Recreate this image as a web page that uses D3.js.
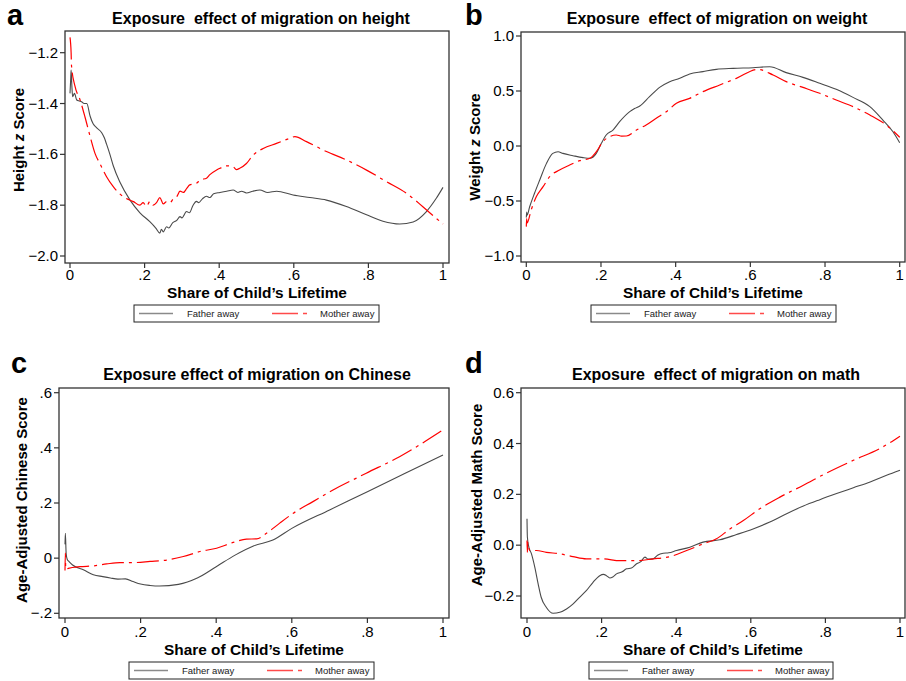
<!DOCTYPE html>
<html>
<head>
<meta charset="utf-8">
<script src="https://cdn.jsdelivr.net/npm/d3@7"></script>
<style>
  html, body { margin: 0; padding: 0; background: #fff; }
  svg { display: block; font-family: "Liberation Sans", Arial, sans-serif; }
</style>
</head>
<body>
<div id="chart"></div>
<script>
// Exposure effect curves: [share of lifetime, score]
const heightFather = [[0,-1.36],[0.002,-1.30],[0.003,-1.268],[0.005,-1.33],[0.007,-1.373],[0.012,-1.36],[0.018,-1.386],[0.025,-1.39],[0.031,-1.393],[0.038,-1.40],[0.045,-1.40],[0.054,-1.45],[0.062,-1.48],[0.071,-1.495],[0.085,-1.515],[0.092,-1.535],[0.098,-1.56],[0.107,-1.60],[0.116,-1.645],[0.134,-1.71],[0.161,-1.78],[0.1875,-1.83],[0.214,-1.865],[0.23,-1.89],[0.241,-1.91],[0.245,-1.895],[0.25,-1.905],[0.259,-1.885],[0.265,-1.89],[0.275,-1.87],[0.286,-1.86],[0.295,-1.845],[0.30,-1.85],[0.3125,-1.825],[0.32,-1.83],[0.33,-1.80],[0.339,-1.785],[0.345,-1.79],[0.355,-1.775],[0.366,-1.765],[0.375,-1.77],[0.385,-1.755],[0.402,-1.75],[0.42,-1.745],[0.4375,-1.74],[0.45,-1.75],[0.46,-1.745],[0.473,-1.752],[0.49,-1.745],[0.509,-1.74],[0.53,-1.75],[0.554,-1.745],[0.598,-1.76],[0.643,-1.77],[0.6875,-1.78],[0.741,-1.805],[0.795,-1.838],[0.839,-1.863],[0.884,-1.874],[0.92,-1.866],[0.955,-1.826],[0.982,-1.773],[1.0,-1.73]];
const heightMother = [[0,-1.14],[0.003,-1.20],[0.004,-1.25],[0.013,-1.33],[0.027,-1.386],[0.04,-1.452],[0.054,-1.53],[0.067,-1.596],[0.08,-1.636],[0.098,-1.688],[0.116,-1.727],[0.143,-1.767],[0.17,-1.786],[0.1875,-1.80],[0.196,-1.79],[0.205,-1.805],[0.214,-1.786],[0.223,-1.80],[0.232,-1.79],[0.241,-1.77],[0.25,-1.795],[0.259,-1.786],[0.268,-1.79],[0.277,-1.775],[0.286,-1.767],[0.295,-1.745],[0.304,-1.75],[0.313,-1.734],[0.321,-1.72],[0.339,-1.714],[0.35,-1.70],[0.366,-1.694],[0.375,-1.68],[0.393,-1.662],[0.402,-1.655],[0.42,-1.645],[0.4375,-1.649],[0.446,-1.66],[0.455,-1.655],[0.473,-1.636],[0.491,-1.603],[0.518,-1.577],[0.5536,-1.557],[0.589,-1.537],[0.603,-1.53],[0.634,-1.55],[0.6875,-1.589],[0.741,-1.622],[0.795,-1.662],[0.848,-1.707],[0.902,-1.753],[0.946,-1.806],[0.982,-1.852],[1.0,-1.874]];

const weightFather = [[0,-0.65],[0.001,-0.60],[0.002,-0.63],[0.009,-0.552],[0.022,-0.43],[0.036,-0.309],[0.054,-0.158],[0.071,-0.067],[0.085,-0.052],[0.098,-0.067],[0.125,-0.088],[0.152,-0.106],[0.17,-0.112],[0.1875,-0.067],[0.201,0.024],[0.214,0.10],[0.232,0.145],[0.25,0.221],[0.277,0.312],[0.29,0.34],[0.304,0.364],[0.33,0.448],[0.357,0.533],[0.384,0.585],[0.411,0.615],[0.4375,0.655],[0.473,0.676],[0.509,0.697],[0.554,0.706],[0.607,0.712],[0.652,0.721],[0.696,0.667],[0.741,0.624],[0.786,0.57],[0.83,0.515],[0.875,0.442],[0.92,0.358],[0.955,0.236],[0.982,0.13],[1.0,0.03]];
const weightMother = [[0,-0.733],[0.001,-0.66],[0.002,-0.70],[0.013,-0.582],[0.027,-0.46],[0.045,-0.37],[0.0625,-0.279],[0.089,-0.218],[0.116,-0.173],[0.143,-0.133],[0.17,-0.112],[0.1875,-0.052],[0.205,0.039],[0.223,0.085],[0.241,0.10],[0.255,0.09],[0.268,0.091],[0.295,0.145],[0.321,0.191],[0.348,0.252],[0.375,0.312],[0.402,0.388],[0.4375,0.433],[0.473,0.494],[0.518,0.555],[0.5625,0.615],[0.62,0.697],[0.661,0.645],[0.696,0.585],[0.741,0.533],[0.786,0.479],[0.83,0.418],[0.875,0.358],[0.92,0.282],[0.964,0.191],[1.0,0.079]];

const chineseFather = [[0,0.05],[0.001,0.09],[0.003,0.018],[0.006,-0.005],[0.009,-0.01],[0.02,-0.025],[0.05,-0.043],[0.075,-0.06],[0.1,-0.067],[0.12,-0.072],[0.14,-0.076],[0.16,-0.075],[0.18,-0.085],[0.2,-0.094],[0.225,-0.099],[0.25,-0.101],[0.3,-0.095],[0.35,-0.072],[0.4,-0.031],[0.45,0.011],[0.5,0.045],[0.55,0.066],[0.6,0.108],[0.7,0.175],[0.8,0.241],[0.9,0.308],[1.0,0.374]];
const chineseMother = [[0,-0.045],[0.001,0.018],[0.002,-0.04],[0.009,-0.037],[0.04,-0.031],[0.075,-0.028],[0.11,-0.021],[0.145,-0.016],[0.181,-0.016],[0.225,-0.012],[0.269,-0.007],[0.313,0.006],[0.357,0.024],[0.401,0.036],[0.445,0.057],[0.48,0.069],[0.507,0.07],[0.533,0.09],[0.568,0.127],[0.604,0.163],[0.656,0.205],[0.709,0.247],[0.797,0.308],[0.885,0.368],[1.0,0.465]];

const mathFather = [[0,0.104],[0.001,0.032],[0.005,-0.008],[0.012,-0.034],[0.021,-0.087],[0.03,-0.153],[0.038,-0.205],[0.052,-0.245],[0.07,-0.268],[0.088,-0.264],[0.106,-0.251],[0.123,-0.232],[0.141,-0.205],[0.159,-0.179],[0.177,-0.146],[0.195,-0.12],[0.205,-0.115],[0.213,-0.12],[0.222,-0.129],[0.23,-0.125],[0.24,-0.113],[0.255,-0.105],[0.267,-0.093],[0.28,-0.09],[0.293,-0.074],[0.305,-0.065],[0.316,-0.047],[0.325,-0.055],[0.338,-0.054],[0.35,-0.04],[0.365,-0.032],[0.38,-0.03],[0.401,-0.021],[0.4365,-0.008],[0.472,0.012],[0.517,0.021],[0.562,0.042],[0.606,0.064],[0.651,0.091],[0.696,0.124],[0.741,0.154],[0.785,0.179],[0.83,0.203],[0.875,0.226],[0.92,0.249],[0.964,0.275],[1.0,0.295]];
const mathMother = [[0,0.018],[0.001,-0.028],[0.002,0.01],[0.007,-0.021],[0.025,-0.021],[0.052,-0.028],[0.088,-0.034],[0.123,-0.045],[0.159,-0.054],[0.204,-0.054],[0.249,-0.061],[0.293,-0.061],[0.338,-0.054],[0.383,-0.045],[0.428,-0.021],[0.472,0.005],[0.508,0.025],[0.544,0.064],[0.58,0.097],[0.624,0.143],[0.678,0.189],[0.741,0.236],[0.803,0.284],[0.875,0.334],[0.946,0.38],[1.0,0.429]];

const xTicks = [0, 0.2, 0.4, 0.6, 0.8, 1];
const xTickLabels = ['0', '.2', '.4', '.6', '.8', '1'];
const heightTicks = [-2.0, -1.8, -1.6, -1.4, -1.2];
const weightTicks = [-1.0, -0.5, 0.0, 0.5, 1.0];
const chineseTicks = [-0.2, 0, 0.2, 0.4, 0.6];
const chineseTickLabels = ['\u2212.2', '0', '.2', '.4', '.6'];
const mathTicks = [-0.2, 0.0, 0.2, 0.4, 0.6];
const legendLabels = ['Father away', 'Mother away'];

const FATHER_COLOR = '#4a4a4a';
const MOTHER_COLOR = '#ff0000';
const MOTHER_DASH = '22,5,3,5';

const fmtFixed1 = v => d3.format('.1f')(v);

// Panel layout: frame box, pixel position of x=0/1 and of two y ticks
const panels = [
  { letter: 'a', letterX: 7, letterY: 25,
    title: 'Exposure\u00a0 effect of migration on height', titleX: 261, titleY: 24,
    yLabel: ['Height ', 'z', ' Score'], yLabelX: 24, yLabelY: 140,
    frame: { l: 65, r: 449, t: 31, b: 263 }, x0: 70, x1: 443,
    yA: [-2.0, 256], yB: [-1.2, 52.7], yTicks: heightTicks, yFmt: fmtFixed1,
    father: heightFather, mother: heightMother, xTitleY: 298, xTickY: 280,
    legend: { l: 134, r: 379, t: 305, b: 322 } },
  { letter: 'b', letterX: 465, letterY: 25,
    title: 'Exposure\u00a0 effect of migration on weight', titleX: 717, titleY: 24,
    yLabel: ['Weight ', 'z', ' Score'], yLabelX: 480, yLabelY: 147,
    frame: { l: 521, r: 905, t: 32, b: 262 }, x0: 526.3, x1: 899.7,
    yA: [-1.0, 256], yB: [1.0, 36], yTicks: weightTicks, yFmt: fmtFixed1,
    father: weightFather, mother: weightMother, xTitleY: 298, xTickY: 280,
    legend: { l: 591, r: 836, t: 305, b: 322 } },
  { letter: 'c', letterX: 11, letterY: 373,
    title: 'Exposure effect of migration on Chinese', titleX: 257, titleY: 380,
    yLabel: ['Age-Adjusted Chinese Score'], yLabelX: 27, yLabelY: 500,
    frame: { l: 59, r: 449, t: 388, b: 618 }, x0: 65, x1: 443,
    yA: [-0.2, 613.3], yB: [0.6, 392.7], yTicks: chineseTicks,
    yFmt: v => chineseTickLabels[chineseTicks.indexOf(v)],
    father: chineseFather, mother: chineseMother, xTitleY: 655, xTickY: 637,
    legend: { l: 129, r: 374, t: 662, b: 679 } },
  { letter: 'd', letterX: 465, letterY: 373,
    title: 'Exposure\u00a0 effect of migration on math', titleX: 716, titleY: 380,
    yLabel: ['Age-Adjusted Math Score'], yLabelX: 482, yLabelY: 495,
    frame: { l: 521, r: 905, t: 388, b: 618 }, x0: 527, x1: 900,
    yA: [-0.2, 596], yB: [0.6, 392.7], yTicks: mathTicks, yFmt: fmtFixed1,
    father: mathFather, mother: mathMother, xTitleY: 655, xTickY: 637,
    legend: { l: 589, r: 833, t: 662, b: 679 } },
];

const svg = d3.select('#chart').append('svg')
  .attr('width', 906)
  .attr('height', 681);

panels.forEach((p, i) => {
  const g = svg.append('g');
  const x = d3.scaleLinear().domain([0, 1]).range([p.x0, p.x1]);
  const y = d3.scaleLinear().domain([p.yA[0], p.yB[0]]).range([p.yA[1], p.yB[1]]);
  const f = p.frame;

  // panel letter
  g.append('text')
    .attr('x', p.letterX).attr('y', p.letterY)
    .style('font-size', '29px').style('font-weight', 'bold')
    .text(p.letter);

  // title
  g.append('text')
    .attr('x', p.titleX).attr('y', p.titleY)
    .attr('text-anchor', 'middle')
    .style('font-size', '16px').style('font-weight', 'bold')
    .text(p.title);

  // clip
  g.append('clipPath').attr('id', 'clip' + i)
    .append('rect')
    .attr('x', f.l).attr('y', f.t)
    .attr('width', f.r - f.l).attr('height', f.b - f.t);

  // lines
  const line = d3.line()
    .x(d => x(d[0]))
    .y(d => y(d[1]))
    .curve(d3.curveMonotoneX);

  const plot = g.append('g').attr('clip-path', `url(#clip${i})`);
  plot.append('path')
    .datum(p.father)
    .attr('d', line)
    .attr('fill', 'none')
    .attr('stroke', FATHER_COLOR)
    .attr('stroke-width', 1.1);
  plot.append('path')
    .datum(p.mother)
    .attr('d', line)
    .attr('fill', 'none')
    .attr('stroke', MOTHER_COLOR)
    .attr('stroke-width', 1.2)
    .attr('stroke-dasharray', MOTHER_DASH);

  // frame
  g.append('rect')
    .attr('x', f.l).attr('y', f.t)
    .attr('width', f.r - f.l).attr('height', f.b - f.t)
    .attr('fill', 'none')
    .attr('stroke', '#333')
    .attr('stroke-width', 1.3);

  // y axis ticks
  p.yTicks.forEach(v => {
    g.append('line')
      .attr('x1', f.l - 5).attr('x2', f.l)
      .attr('y1', y(v)).attr('y2', y(v))
      .attr('stroke', '#333').attr('stroke-width', 1.2);
    g.append('text')
      .attr('x', f.l - 7).attr('y', y(v) + 5)
      .attr('text-anchor', 'end')
      .style('font-size', '15px')
      .text(p.yFmt(v));
  });

  // x axis ticks
  xTicks.forEach((v, k) => {
    g.append('line')
      .attr('x1', x(v)).attr('x2', x(v))
      .attr('y1', f.b).attr('y2', f.b + 5)
      .attr('stroke', '#333').attr('stroke-width', 1.2);
    g.append('text')
      .attr('x', x(v)).attr('y', p.xTickY)
      .attr('text-anchor', 'middle')
      .style('font-size', '15px')
      .text(xTickLabels[k]);
  });

  // x axis title
  g.append('text')
    .attr('x', (f.l + f.r) / 2).attr('y', p.xTitleY)
    .attr('text-anchor', 'middle')
    .style('font-size', '15.4px').style('font-weight', 'bold')
    .text('Share of Child\u2019s Lifetime');

  // y axis title
  const yt = g.append('text')
    .attr('transform', `translate(${p.yLabelX},${p.yLabelY}) rotate(-90)`)
    .attr('text-anchor', 'middle')
    .style('font-size', '15px').style('font-weight', 'bold');
  p.yLabel.forEach(s => {
    const t = yt.append('tspan').text(s);
    if (s === 'z') t.style('font-style', 'italic');
  });

  // legend
  const L = p.legend;
  const midY = (L.t + L.b) / 2;
  g.append('rect')
    .attr('x', L.l).attr('y', L.t)
    .attr('width', L.r - L.l).attr('height', L.b - L.t)
    .attr('fill', '#fff')
    .attr('stroke', '#222').attr('stroke-width', 1);
  g.append('line')
    .attr('x1', L.l + 5).attr('x2', L.l + 39)
    .attr('y1', midY).attr('y2', midY)
    .attr('stroke', '#8a8a8a').attr('stroke-width', 1.3);
  g.append('text')
    .attr('x', L.l + 53).attr('y', midY + 3.5)
    .style('font-size', '9.5px').style('fill', '#222')
    .text(legendLabels[0]);
  g.append('line')
    .attr('x1', L.l + 138).attr('x2', L.l + 173)
    .attr('y1', midY).attr('y2', midY)
    .attr('stroke', '#ff4a4a').attr('stroke-width', 1.4)
    .attr('stroke-dasharray', '26,5,4,50');
  g.append('text')
    .attr('x', L.l + 186).attr('y', midY + 3.5)
    .style('font-size', '9.5px').style('fill', '#222')
    .text(legendLabels[1]);
});
</script>
</body>
</html>
